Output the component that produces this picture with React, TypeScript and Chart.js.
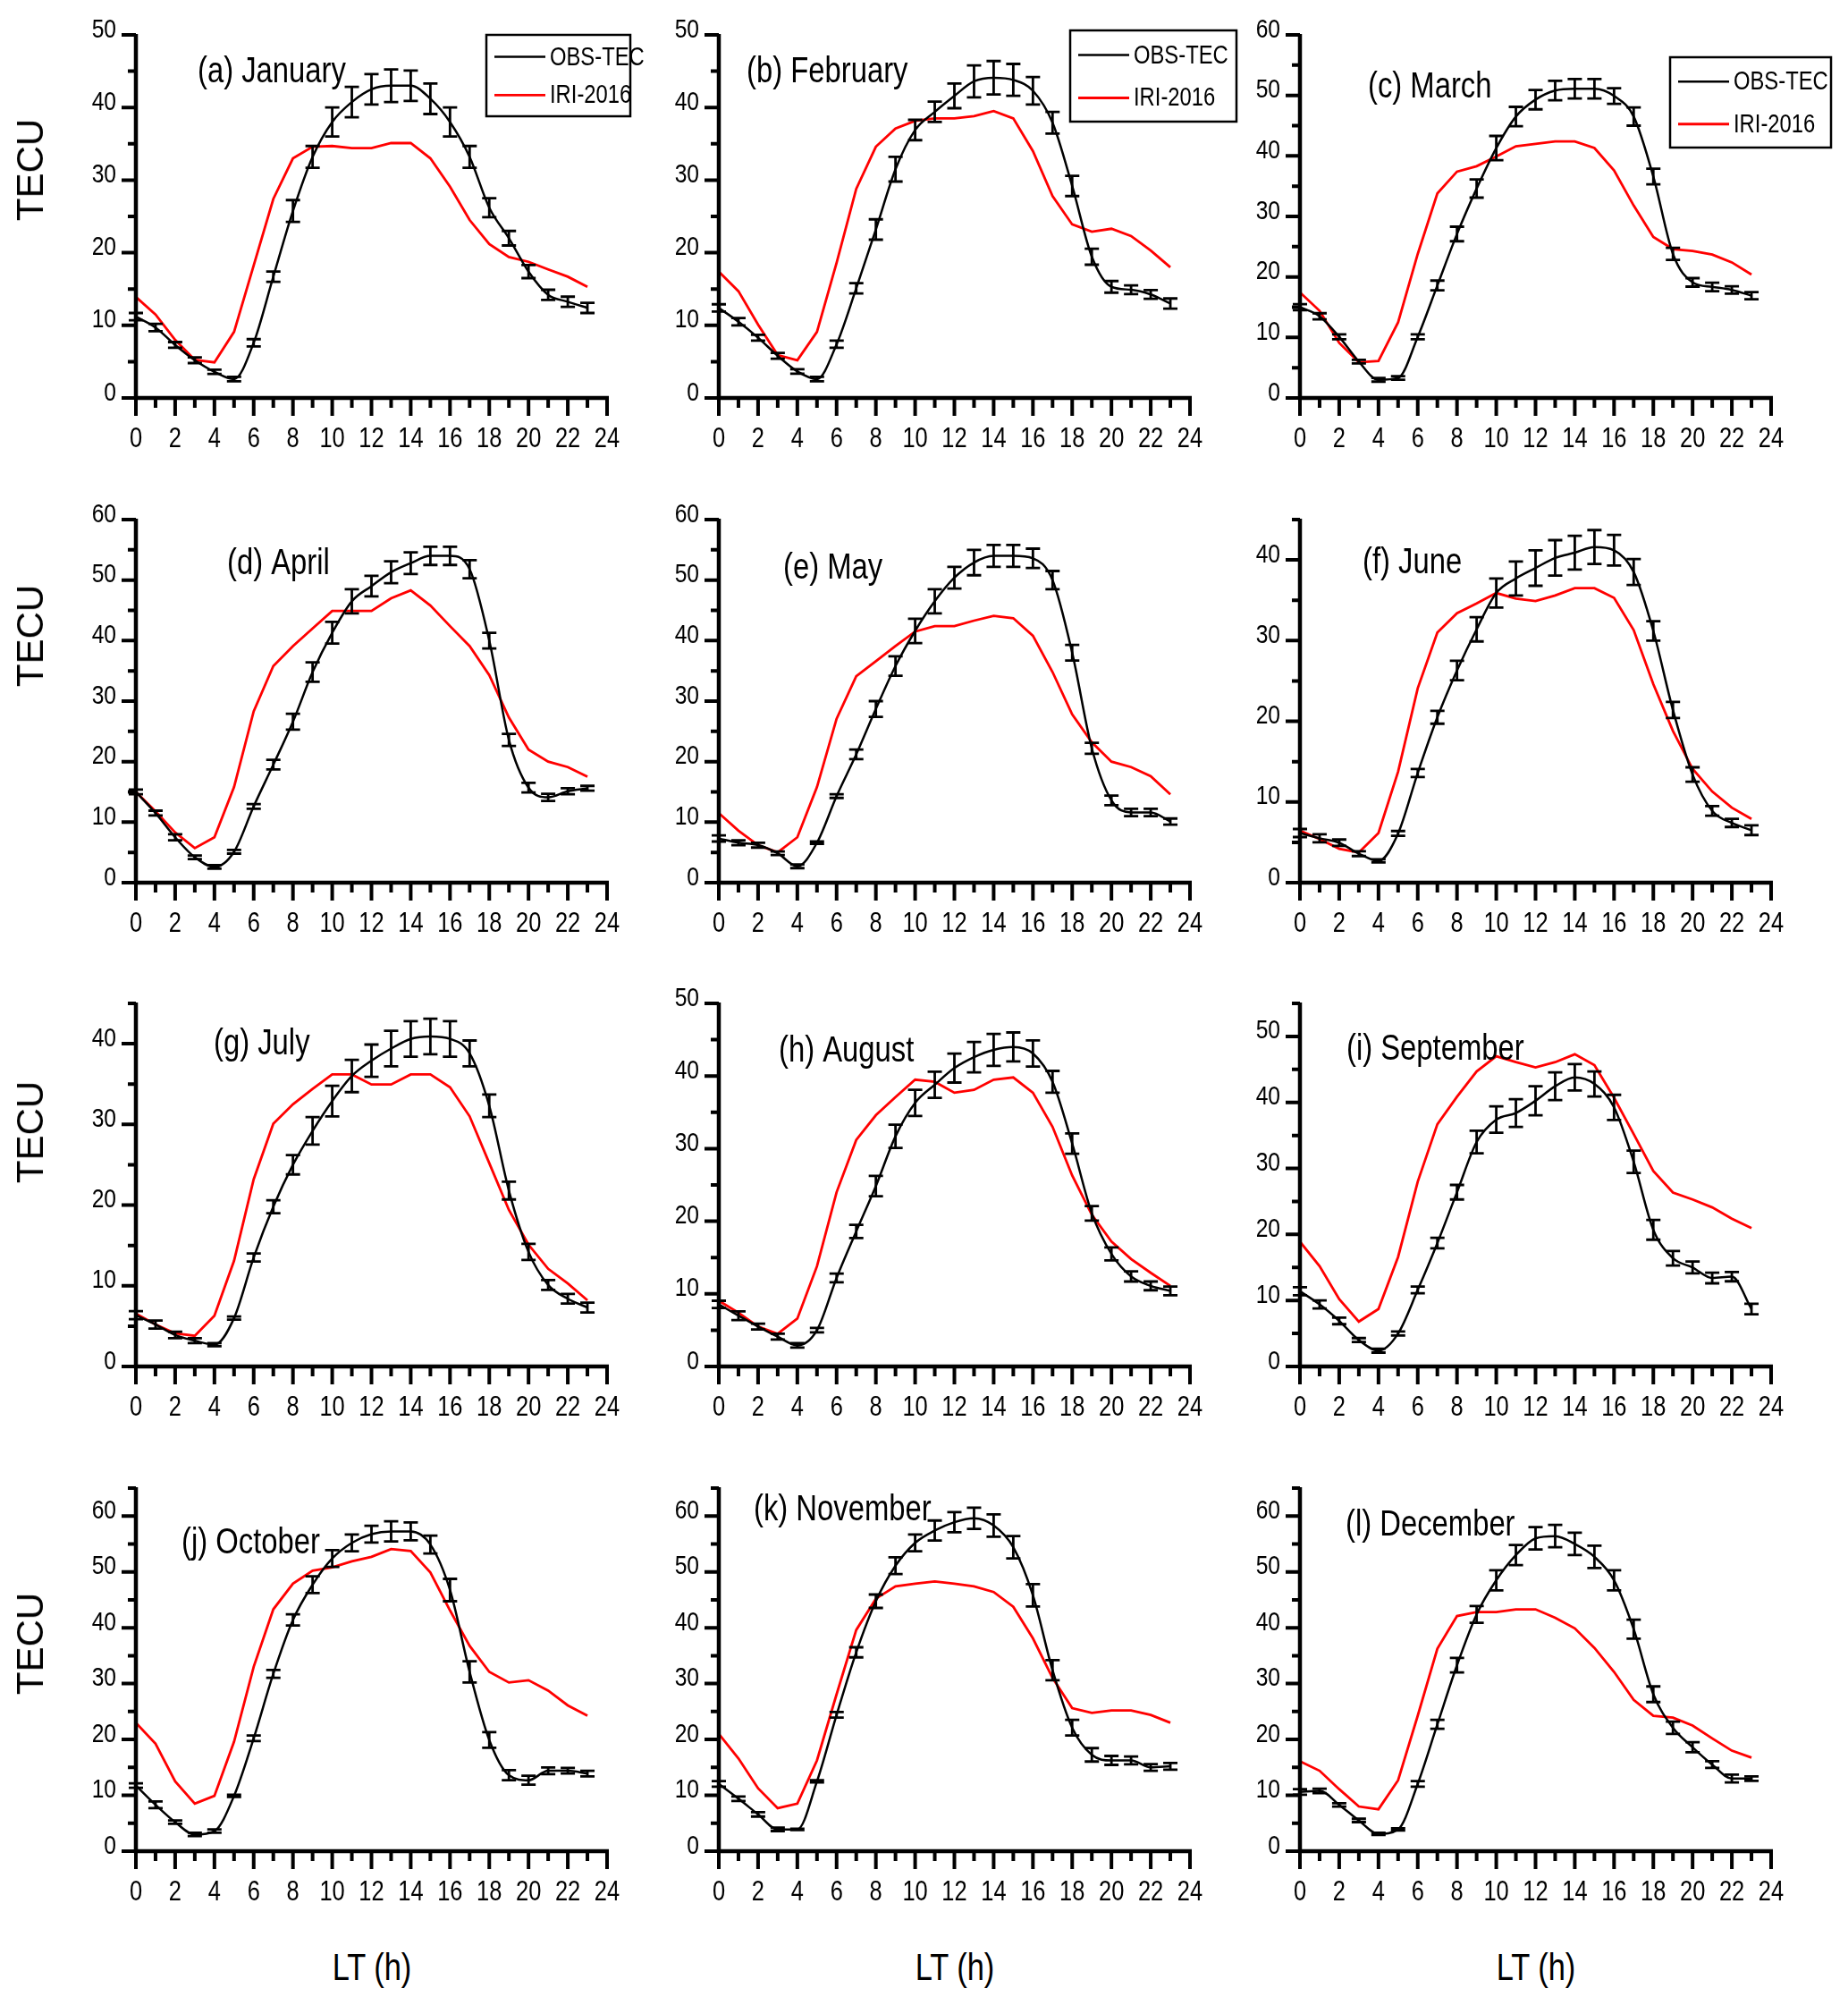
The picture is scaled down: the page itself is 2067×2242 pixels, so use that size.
import React, { useEffect, useRef } from 'react';
import { Chart, registerables } from 'chart.js';

Chart.register(...registerables);

const SANS = '"Liberation Sans", Arial, sans-serif';
const NARROW_SCALE = 0.82;

const HOURS = [0, 1, 2, 3, 4, 5, 6, 7, 8, 9, 10, 11, 12, 13, 14, 15, 16, 17, 18, 19, 20, 21, 22, 23];

const OBS_JAN = [11.2, 9.7, 7.3, 5.2, 3.6, 2.6, 7.6, 16.7, 25.75, 33.2, 38.0, 40.75, 42.5, 43.0, 43.0, 41.2, 38.0, 33.2, 26.2, 22.0, 17.4, 14.2, 13.25, 12.4];
const ERR_JAN = [0.5, 0.5, 0.4, 0.4, 0.3, 0.3, 0.5, 0.7, 1.5, 1.5, 2.0, 2.1, 2.1, 2.25, 2.1, 2.1, 2.0, 1.5, 1.3, 1.0, 0.9, 0.7, 0.7, 0.7];
const IRI_JAN = [13.9, 11.5, 8.0, 5.25, 4.9, 9.1, 18.25, 27.4, 33.0, 34.6, 34.7, 34.4, 34.4, 35.1, 35.1, 33.0, 29.1, 24.5, 21.2, 19.4, 18.75, 17.7, 16.7, 15.3];

const OBS_FEB = [12.4, 10.5, 8.3, 5.8, 3.65, 2.6, 7.4, 15.1, 23.2, 31.5, 36.9, 39.4, 41.6, 43.6, 44.1, 43.8, 42.3, 37.9, 29.2, 19.45, 15.3, 14.9, 14.25, 13.0];
const ERR_FEB = [0.5, 0.5, 0.4, 0.4, 0.3, 0.3, 0.5, 0.7, 1.4, 1.7, 1.4, 1.4, 1.7, 2.2, 2.3, 2.2, 1.9, 1.5, 1.4, 1.1, 0.8, 0.6, 0.6, 0.7];
const IRI_FEB = [17.4, 14.7, 10.1, 5.9, 5.2, 9.1, 18.6, 28.8, 34.6, 37.1, 38.15, 38.5, 38.5, 38.8, 39.5, 38.5, 34.0, 27.8, 23.9, 22.9, 23.3, 22.3, 20.3, 18.0];

const OBS_MAR = [15.0, 13.5, 10.1, 6.0, 3.0, 3.3, 10.1, 18.6, 27.1, 34.6, 41.3, 46.5, 49.3, 50.8, 51.1, 51.1, 49.9, 46.5, 36.6, 23.8, 19.1, 18.35, 17.85, 16.9];
const ERR_MAR = [0.5, 0.5, 0.4, 0.3, 0.3, 0.3, 0.4, 0.8, 1.2, 1.5, 2.0, 1.6, 1.6, 1.6, 1.6, 1.6, 1.3, 1.5, 1.3, 1.0, 0.7, 0.7, 0.6, 0.6];
const IRI_MAR = [17.45, 14.4, 9.1, 5.9, 6.1, 12.5, 23.8, 33.8, 37.4, 38.3, 39.9, 41.6, 42.0, 42.4, 42.4, 41.3, 37.6, 31.8, 26.6, 24.6, 24.3, 23.7, 22.4, 20.4];

const OBS_APR = [15.0, 11.5, 7.5, 4.2, 2.6, 5.1, 12.6, 19.5, 26.6, 34.8, 41.3, 46.5, 49.0, 51.3, 52.8, 54.0, 54.0, 51.8, 40.0, 23.6, 15.7, 14.1, 15.1, 15.6];
const ERR_APR = [0.4, 0.4, 0.5, 0.3, 0.3, 0.3, 0.4, 0.8, 1.3, 1.6, 1.8, 2.0, 1.7, 1.8, 1.8, 1.5, 1.5, 1.5, 1.3, 1.0, 0.8, 0.6, 0.5, 0.4];
const IRI_APR = [15.0, 11.8, 8.3, 5.7, 7.5, 15.8, 28.3, 35.8, 39.1, 42.0, 44.9, 44.9, 44.9, 47.0, 48.3, 45.8, 42.4, 39.1, 34.3, 27.3, 22.0, 20.0, 19.1, 17.5];

const OBS_MAY = [7.3, 6.6, 6.2, 4.85, 2.7, 6.6, 14.3, 21.2, 28.7, 35.8, 41.6, 46.5, 50.4, 52.9, 54.0, 54.0, 53.6, 50.0, 38.0, 22.2, 13.6, 11.6, 11.6, 10.1];
const ERR_MAY = [0.5, 0.4, 0.4, 0.3, 0.3, 0.2, 0.3, 0.8, 1.3, 1.6, 2.0, 2.0, 1.8, 2.1, 1.8, 1.8, 1.6, 1.5, 1.3, 0.9, 0.8, 0.6, 0.6, 0.5];
const IRI_MAY = [11.5, 8.6, 6.2, 5.0, 7.5, 15.8, 27.1, 34.1, 36.6, 39.1, 41.5, 42.4, 42.4, 43.3, 44.1, 43.7, 40.8, 34.8, 27.8, 23.2, 20.0, 19.1, 17.6, 14.6];

const OBS_JUN = [6.15, 5.5, 4.95, 3.6, 2.7, 6.1, 13.6, 20.5, 26.3, 31.4, 35.9, 37.7, 39.0, 40.25, 40.9, 41.6, 41.2, 38.5, 31.2, 21.4, 13.4, 8.9, 7.4, 6.5];
const ERR_JUN = [0.5, 0.5, 0.4, 0.3, 0.2, 0.3, 0.5, 0.8, 1.2, 1.5, 1.8, 2.1, 2.2, 2.2, 2.1, 2.1, 1.9, 1.6, 1.2, 1.0, 0.9, 0.6, 0.5, 0.6];
const IRI_JUN = [6.45, 5.4, 4.2, 3.75, 6.15, 13.75, 24.1, 31.0, 33.4, 34.6, 35.9, 35.2, 34.9, 35.6, 36.5, 36.5, 35.3, 31.3, 24.6, 18.8, 14.1, 11.3, 9.3, 7.9];

const OBS_JUL = [6.35, 5.2, 3.9, 3.2, 2.7, 6.0, 13.5, 19.8, 25.0, 29.2, 32.9, 36.0, 37.9, 39.4, 40.6, 40.9, 40.6, 38.8, 32.3, 21.8, 14.2, 10.1, 8.4, 7.3];
const ERR_JUL = [0.5, 0.5, 0.4, 0.3, 0.2, 0.2, 0.5, 0.8, 1.2, 1.7, 1.9, 2.0, 2.0, 2.2, 2.2, 2.2, 2.2, 1.6, 1.4, 1.1, 1.0, 0.6, 0.6, 0.6];
const IRI_JUL = [6.55, 5.2, 4.1, 3.8, 6.3, 13.1, 23.2, 30.1, 32.5, 34.4, 36.2, 36.2, 34.95, 34.95, 36.2, 36.2, 34.6, 31.0, 25.2, 19.4, 15.1, 12.1, 10.3, 8.2];

const OBS_AUG = [8.55, 7.0, 5.5, 4.1, 2.9, 5.0, 12.2, 18.6, 24.85, 31.7, 36.3, 38.8, 41.1, 42.6, 43.6, 44.0, 43.1, 39.2, 30.7, 21.1, 15.5, 12.4, 11.1, 10.4];
const ERR_AUG = [0.5, 0.6, 0.4, 0.4, 0.3, 0.3, 0.6, 0.9, 1.4, 1.6, 1.8, 1.8, 2.0, 2.1, 2.2, 2.0, 1.8, 1.5, 1.4, 1.0, 0.9, 0.7, 0.6, 0.6];
const IRI_AUG = [9.05, 7.4, 5.5, 4.5, 6.6, 13.8, 24.0, 31.2, 34.6, 37.1, 39.5, 39.2, 37.7, 38.1, 39.5, 39.8, 37.7, 33.0, 26.3, 20.9, 17.2, 14.8, 12.9, 11.1];

const OBS_SEP = [11.4, 9.4, 6.9, 4.0, 2.4, 5.0, 11.6, 18.7, 26.4, 34.0, 37.4, 38.4, 40.25, 42.45, 43.8, 42.8, 39.25, 31.0, 20.7, 16.4, 15.0, 13.4, 13.6, 8.7];
const ERR_SEP = [0.6, 0.6, 0.5, 0.3, 0.3, 0.3, 0.5, 0.8, 1.1, 1.7, 2.0, 2.1, 2.2, 2.1, 2.0, 1.9, 1.9, 1.7, 1.5, 1.1, 0.9, 0.8, 0.7, 0.8];
const IRI_SEP = [18.9, 15.2, 10.2, 6.8, 8.7, 16.6, 28.0, 36.7, 40.85, 44.7, 47.0, 46.1, 45.3, 46.1, 47.3, 45.65, 40.7, 35.2, 29.6, 26.35, 25.3, 24.1, 22.4, 20.95];

const OBS_OCT = [11.75, 8.3, 5.2, 3.0, 3.6, 9.9, 20.2, 31.75, 41.4, 47.7, 52.4, 55.2, 56.75, 57.25, 57.25, 54.9, 46.75, 32.1, 19.9, 13.6, 12.7, 14.4, 14.4, 13.9];
const ERR_OCT = [0.4, 0.6, 0.3, 0.3, 0.3, 0.2, 0.5, 0.7, 1.0, 1.5, 1.5, 1.5, 1.5, 1.8, 1.6, 1.6, 2.0, 1.9, 1.4, 0.9, 0.8, 0.6, 0.5, 0.5];
const IRI_OCT = [23.0, 19.25, 12.5, 8.5, 9.9, 19.6, 33.0, 43.3, 47.9, 50.2, 50.8, 51.9, 52.7, 54.1, 53.75, 49.9, 43.1, 36.75, 32.1, 30.2, 30.6, 28.75, 26.1, 24.25];

const OBS_NOV = [12.05, 9.4, 6.6, 3.9, 3.9, 12.5, 24.4, 35.6, 44.75, 51.1, 55.2, 57.4, 58.9, 59.6, 58.3, 54.4, 45.8, 32.4, 22.1, 17.25, 16.25, 16.25, 15.0, 15.2];
const ERR_NOV = [0.5, 0.4, 0.4, 0.3, 0.1, 0.2, 0.5, 0.9, 1.2, 1.5, 1.5, 1.8, 1.8, 1.9, 2.0, 2.0, 2.0, 1.8, 1.4, 1.2, 0.8, 0.7, 0.6, 0.6];
const IRI_NOV = [21.0, 16.6, 11.25, 7.7, 8.5, 16.25, 28.1, 39.6, 45.2, 47.4, 47.9, 48.3, 47.9, 47.4, 46.4, 43.75, 38.1, 31.0, 25.6, 24.75, 25.2, 25.2, 24.4, 23.0];

const OBS_DEC = [10.6, 10.8, 8.3, 5.5, 3.1, 3.9, 12.05, 22.7, 33.3, 42.4, 48.5, 53.0, 56.0, 56.4, 55.0, 52.7, 48.5, 39.75, 28.1, 22.1, 18.6, 15.5, 13.0, 13.0];
const ERR_DEC = [0.5, 0.4, 0.3, 0.3, 0.2, 0.2, 0.5, 0.8, 1.3, 1.5, 1.8, 1.8, 2.0, 2.0, 2.0, 2.0, 1.8, 1.7, 1.4, 1.1, 0.9, 0.6, 0.7, 0.4];
const IRI_DEC = [16.1, 14.4, 11.1, 8.0, 7.5, 12.7, 24.25, 36.25, 42.1, 42.8, 42.8, 43.3, 43.3, 41.8, 39.9, 36.4, 32.1, 27.1, 24.25, 23.9, 22.5, 20.2, 18.0, 16.75];

const TITLES = ['(a) January', '(b) February', '(c) March', '(d) April', '(e) May', '(f) June',
  '(g) July', '(h) August', '(i) September', '(j) October', '(k) November', '(l) December'];
const Y_MAX = [50, 50, 60, 60, 60, 45, 45, 50, 55, 65, 65, 65];
const OBS = [OBS_JAN, OBS_FEB, OBS_MAR, OBS_APR, OBS_MAY, OBS_JUN, OBS_JUL, OBS_AUG, OBS_SEP, OBS_OCT, OBS_NOV, OBS_DEC];
const ERR = [ERR_JAN, ERR_FEB, ERR_MAR, ERR_APR, ERR_MAY, ERR_JUN, ERR_JUL, ERR_AUG, ERR_SEP, ERR_OCT, ERR_NOV, ERR_DEC];
const IRI = [IRI_JAN, IRI_FEB, IRI_MAR, IRI_APR, IRI_MAY, IRI_JUN, IRI_JUL, IRI_AUG, IRI_SEP, IRI_OCT, IRI_NOV, IRI_DEC];
const SERIES_NAMES = ['OBS-TEC', 'IRI-2016'];

// ---- layout (pixels) ----
const COL_X = [152, 804, 1454];
const ROW_TOP = [39, 581, 1122, 1664];
const PLOT_W = 527;
const PLOT_H = 406;
const PAD_L = 110;
const PAD_T = 45;
const PAD_R = 75;
const AX_H = 75;
const TITLE_POS = [[69, 42], [31, 42], [76, 59], [102, 50], [72, 55], [70, 49], [87, 46], [67, 54], [52, 52], [51, 62], [39, 25], [51, 42]];
const LEGEND_BOX: (number[] | null)[] = [[392, 0, 161, 91], [393, -5, 186, 102], [414, 25, 180, 101], null, null, null, null, null, null, null, null, null];
const TECU_Y = [190, 711, 1266, 1838];

function narrowText(ctx: any, text: string, x: number, y: number, size: number, align: string, baseline: string) {
  ctx.save();
  ctx.translate(x, y);
  ctx.scale(NARROW_SCALE, 1);
  ctx.font = `${size}px ${SANS}`;
  ctx.textAlign = align;
  ctx.textBaseline = baseline;
  ctx.fillText(text, 0, 0);
  ctx.restore();
}

const axesPlugin = {
  id: 'axesTicks',
  afterDraw(chart: any) {
    const { ctx, chartArea: ca } = chart;
    const x = chart.scales.x;
    const y = chart.scales.y;
    ctx.save();
    ctx.strokeStyle = '#000';
    ctx.fillStyle = '#000';
    ctx.lineCap = 'butt';
    ctx.lineWidth = 4.5;
    ctx.beginPath();
    ctx.moveTo(ca.left, ca.top - 1);
    ctx.lineTo(ca.left, ca.bottom + 2.25);
    ctx.moveTo(ca.left - 2.25, ca.bottom);
    ctx.lineTo(ca.right + 2, ca.bottom);
    ctx.stroke();
    ctx.lineWidth = 4;
    ctx.beginPath();
    x.ticks.forEach((t: any) => {
      const px = x.getPixelForValue(t.value);
      const len = t.value % 2 === 0 ? 20 : 11;
      ctx.moveTo(px, ca.bottom);
      ctx.lineTo(px, ca.bottom + len);
    });
    y.ticks.forEach((t: any) => {
      const py = y.getPixelForValue(t.value);
      const len = t.value % 10 === 0 ? 16 : 9;
      ctx.moveTo(ca.left, py);
      ctx.lineTo(ca.left - len, py);
    });
    ctx.stroke();
    x.ticks.forEach((t: any) => {
      if (t.value % 2 !== 0) return;
      narrowText(ctx, String(t.value), x.getPixelForValue(t.value), ca.bottom + 54.5, 31, 'center', 'alphabetic');
    });
    y.ticks.forEach((t: any) => {
      if (t.value % 10 !== 0) return;
      narrowText(ctx, String(t.value), ca.left - 22, y.getPixelForValue(t.value) + 2.5, 30, 'right', 'alphabetic');
    });
    ctx.restore();
  },
};

const errorBarPlugin = {
  id: 'errorBars',
  afterDatasetsDraw(chart: any) {
    const { ctx } = chart;
    const x = chart.scales.x;
    const y = chart.scales.y;
    const ds = chart.data.datasets[0];
    const errs = ds.errors as number[];
    if (!errs) return;
    ctx.save();
    ctx.strokeStyle = '#000';
    ctx.lineWidth = 2.8;
    ctx.beginPath();
    ds.data.forEach((pt: any, i: number) => {
      const px = x.getPixelForValue(pt.x);
      const yT = y.getPixelForValue(pt.y + errs[i]);
      const yB = y.getPixelForValue(pt.y - errs[i]);
      ctx.moveTo(px, yT);
      ctx.lineTo(px, yB);
      ctx.moveTo(px - 8, yT);
      ctx.lineTo(px + 8, yT);
      ctx.moveTo(px - 8, yB);
      ctx.lineTo(px + 8, yB);
    });
    ctx.stroke();
    ctx.restore();
  },
};

const annotPlugin = {
  id: 'annot',
  afterDraw(chart: any) {
    const { ctx, chartArea: ca } = chart;
    const o = chart.options.plugins.annot;
    ctx.save();
    ctx.fillStyle = '#000';
    narrowText(ctx, o.title, ca.left + o.titlePos[0], ca.top + o.titlePos[1], 40, 'left', 'middle');
    if (o.legend) {
      const [bx, by, bw, bh] = o.legend;
      const L = ca.left + bx;
      const T = ca.top + by;
      ctx.strokeStyle = '#000';
      ctx.lineWidth = 2.5;
      ctx.strokeRect(L, T, bw, bh);
      const rows = [T + bh * 0.27, T + bh * 0.74];
      const colors = ['#000', '#ff0000'];
      rows.forEach((ry, k) => {
        ctx.strokeStyle = colors[k];
        ctx.lineWidth = k === 0 ? 2.5 : 2.8;
        ctx.beginPath();
        ctx.moveTo(L + 9, ry);
        ctx.lineTo(L + 66, ry);
        ctx.stroke();
        narrowText(ctx, SERIES_NAMES[k], L + 71, ry + 1, 29, 'left', 'middle');
      });
    }
    ctx.restore();
  },
};

function Panel({ idx }: { idx: number }) {
  const ref = useRef<HTMLCanvasElement>(null);
  const col = idx % 3;
  const row = Math.floor(idx / 3);
  const left = COL_X[col] - PAD_L;
  const top = ROW_TOP[row] - PAD_T;
  const width = PAD_L + PLOT_W + PAD_R;
  const height = PAD_T + PLOT_H + AX_H;

  useEffect(() => {
    if (!ref.current) return;
    const chart = new Chart(ref.current, {
      type: 'line',
      data: {
        datasets: [
          {
            label: SERIES_NAMES[0],
            data: HOURS.map((h, i) => ({ x: h, y: OBS[idx][i] })),
            borderColor: '#000',
            borderWidth: 2.5,
            pointRadius: 0,
            cubicInterpolationMode: 'monotone',
            errors: ERR[idx],
          } as any,
          {
            label: SERIES_NAMES[1],
            data: HOURS.map((h, i) => ({ x: h, y: IRI[idx][i] })),
            borderColor: '#ff0000',
            borderWidth: 2.8,
            pointRadius: 0,
            tension: 0,
          },
        ],
      },
      options: {
        animation: false,
        responsive: false,
        devicePixelRatio: 1,
        events: [],
        layout: { padding: { top: PAD_T, right: PAD_R, left: 0, bottom: 0 } },
        plugins: {
          legend: { display: false },
          tooltip: { enabled: false },
          annot: { title: TITLES[idx], titlePos: TITLE_POS[idx], legend: LEGEND_BOX[idx] },
        } as any,
        scales: {
          x: {
            type: 'linear',
            min: 0,
            max: 24,
            grid: { display: false, drawTicks: false },
            border: { display: false },
            ticks: { stepSize: 1, autoSkip: false, maxRotation: 0, display: false },
            afterFit: (s: any) => {
              s.height = AX_H;
              s.paddingLeft = 0;
              s.paddingRight = 0;
            },
          },
          y: {
            type: 'linear',
            min: 0,
            max: Y_MAX[idx],
            grid: { display: false, drawTicks: false },
            border: { display: false },
            ticks: { stepSize: 5, autoSkip: false, display: false },
            afterFit: (s: any) => {
              s.width = PAD_L;
              s.paddingTop = 0;
              s.paddingBottom = 0;
            },
          },
        },
      } as any,
      plugins: [errorBarPlugin, axesPlugin, annotPlugin],
    });
    return () => chart.destroy();
  }, [idx]);

  return (
    <canvas
      ref={ref}
      width={width}
      height={height}
      style={{ position: 'absolute', left, top, width, height }}
    />
  );
}

export default function App() {
  return (
    <div style={{ position: 'absolute', left: 0, top: 0, width: 2067, height: 2242, background: '#fff', overflow: 'hidden' }}>
      {TITLES.map((_, i) => (
        <Panel key={i} idx={i} />
      ))}
      {TECU_Y.map((ty, i) => (
        <div
          key={'t' + i}
          style={{
            position: 'absolute',
            left: 34,
            top: ty,
            transform: 'translate(-50%, -50%) rotate(-90deg)',
            font: `42px ${SANS}`,
            color: '#000',
            whiteSpace: 'nowrap',
            lineHeight: 1,
          }}
        >
          TECU
        </div>
      ))}
      {COL_X.map((cx, i) => (
        <div
          key={'l' + i}
          style={{
            position: 'absolute',
            left: cx + PLOT_W / 2,
            top: 2200,
            transform: `translate(-50%, -50%) scaleX(${NARROW_SCALE})`,
            font: `42px ${SANS}`,
            color: '#000',
            whiteSpace: 'nowrap',
            lineHeight: 1,
          }}
        >
          LT (h)
        </div>
      ))}
    </div>
  );
}
